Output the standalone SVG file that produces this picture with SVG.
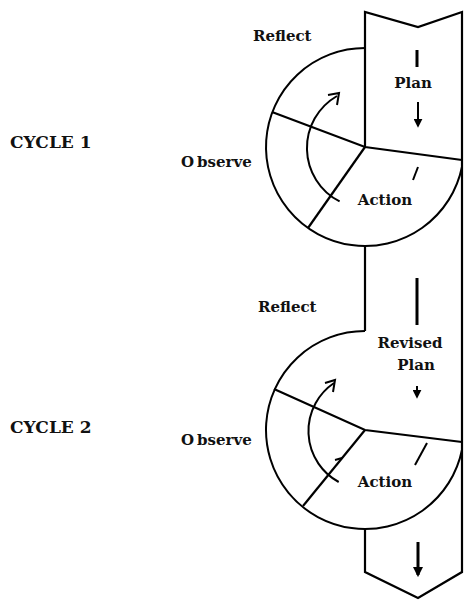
<svg xmlns="http://www.w3.org/2000/svg" width="464" height="601" viewBox="0 0 464 601">
<style>
.ln{fill:none;stroke:#000;stroke-width:2.2;stroke-linejoin:miter;stroke-linecap:butt}
.thin{fill:none;stroke:#000;stroke-width:2}
.thick{fill:none;stroke:#000;stroke-width:3}
.t{font-family:"DejaVu Serif","Liberation Serif",serif;font-weight:bold;font-size:15px;fill:#111}
.big{font-size:17px}
</style>
<defs>
<marker id="ah" viewBox="0 0 10 10" refX="8" refY="5" markerWidth="4.5" markerHeight="4.5" orient="auto" markerUnits="strokeWidth">
<path d="M0,0 L10,5 L0,10 Z" fill="#000"/>
</marker>
<marker id="ah2" viewBox="0 0 10 10" refX="8" refY="5" markerWidth="3.5" markerHeight="3.5" orient="auto" markerUnits="strokeWidth">
<path d="M0,0 L10,5 L0,10 Z" fill="#000"/>
</marker>
</defs>
<rect width="464" height="601" fill="#fff"/>
<g id="band">
<path class="ln" d="M365,147 L365,12 L418,27 L462,12 L462,572 L418,598 L365,572 L365,529"/>
<path class="ln" d="M365,246 L365,331"/>
</g>
<g id="cycle1">
<path class="thin" d="M365,48 A99,99 0 1 0 462,166.8"/>
<path class="ln" d="M272,112 L365,147 L462,160"/>
<path class="ln" d="M365,147 L308,228"/>
<path class="thin" d="M339.6,201.4 A60,60 0 0 1 337,96"/>
<path class="thin" d="M328,95 L339,93 L337,105"/>
<path class="thin" d="M413,180 L418,167"/>
</g>
<g id="cycle2">
<path class="thin" d="M365,331 A99,99 0 1 0 462,449.8"/>
<path class="ln" d="M274,389 L365,430 L462,442"/>
<path class="ln" d="M365,430 L303,506"/>
<path class="thin" d="M338.7,482 A58,58 0 0 1 334,383"/>
<path class="thin" d="M325,383 L335,380 L333,392"/>
<path class="thin" d="M335,460 L342,458"/>
<path class="thin" d="M415,465 L427,443"/>
</g>
<g id="plan-arrows">
<path class="thick" d="M417,50 L417,67"/>
<path class="thin" d="M418,102 L418,126" marker-end="url(#ah)"/>
<path class="thick" d="M417,278 L417,325"/>
<path class="thin" d="M417,386 L417,397" marker-end="url(#ah)"/>
<path class="thick" d="M418,542 L418,575" marker-end="url(#ah2)"/>
</g>
<g id="labels">
<text class="t" x="253" y="41">Reflect</text>
<text class="t" x="413" y="88" text-anchor="middle">Plan</text>
<text class="t big" x="10" y="148">CYCLE 1</text>
<text class="t" x="181" y="167">O<tspan dx="3">bserve</tspan></text>
<text class="t" x="385" y="205" text-anchor="middle">Action</text>
<text class="t" x="258" y="312">Reflect</text>
<text class="t" x="410" y="348" text-anchor="middle">Revised</text>
<text class="t" x="416" y="370" text-anchor="middle">Plan</text>
<text class="t big" x="10" y="433">CYCLE 2</text>
<text class="t" x="181" y="445">O<tspan dx="3">bserve</tspan></text>
<text class="t" x="385" y="487" text-anchor="middle">Action</text>
</g>
</svg>
